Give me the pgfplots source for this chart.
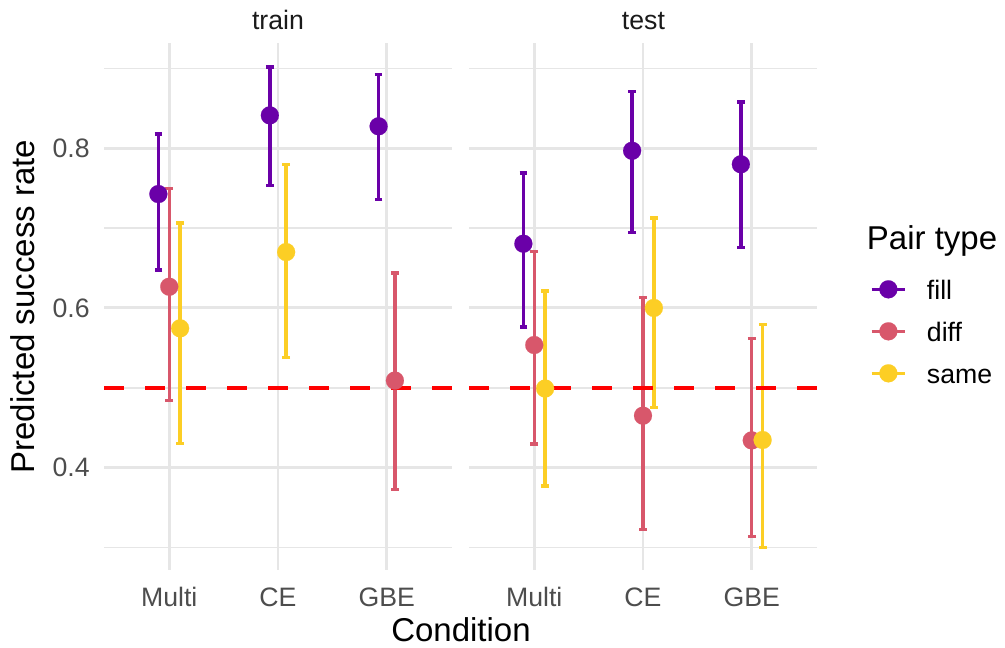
\documentclass[border=0pt]{standalone}
\usepackage{fontspec}
\setmainfont{Liberation Sans}
\usepackage{pgfplots}
\pgfplotsset{compat=1.18}
\usepackage{pgfplotstable}

\definecolor{cfill}{HTML}{6A00A8}
\definecolor{cdiff}{HTML}{D8576B}
\definecolor{csame}{HTML}{FCCE25}
\definecolor{tickgrey}{HTML}{4D4D4D}
\definecolor{stripgrey}{HTML}{1A1A1A}
\definecolor{gridgrey}{HTML}{E6E6E6}

% x = condition (1 Multi, 2 CE, 3 GBE) + dodge offset
\pgfplotstableread{
x y lo hi
0.900 0.7427 0.6475 0.8180
1.925 0.8413 0.7536 0.9022
2.925 0.8276 0.7360 0.8922
}\trainfill
\pgfplotstableread{
x y lo hi
1.000 0.6266 0.4840 0.7500
3.075 0.5090 0.3727 0.6440
}\traindiff
\pgfplotstableread{
x y lo hi
1.100 0.5744 0.4303 0.7064
2.075 0.6700 0.5380 0.7795
}\trainsame
\pgfplotstableread{
x y lo hi
0.900 0.6805 0.5760 0.7690
1.900 0.7970 0.6947 0.8709
2.900 0.7800 0.6755 0.8580
}\testfill
\pgfplotstableread{
x y lo hi
1.000 0.5535 0.4295 0.6710
2.000 0.4650 0.3225 0.6128
3.000 0.4340 0.3138 0.5619
}\testdiff
\pgfplotstableread{
x y lo hi
1.100 0.4990 0.3770 0.6210
2.100 0.6000 0.4754 0.7127
3.100 0.4345 0.3000 0.5794
}\testsame

\newcommand{\ticksize}{\fontsize{20}{24}\selectfont}
\newcommand{\titlesize}{\fontsize{24.75}{30}\selectfont}

\pgfplotsset{
  facet/.style={
    scale only axis, width=261pt, height=395pt,
    anchor=south west,
    xmin=0.4, xmax=3.6, ymin=0.2716, ymax=0.9316,
    axis line style={draw=none},
    major tick length=0pt, minor tick length=0pt,
    xtick={1,2,3}, xticklabels={Multi,CE,GBE},
    ytick={0.4,0.6,0.8}, minor ytick={0.3,0.5,0.7,0.9},
    xmajorgrids, ymajorgrids, yminorgrids,
    major grid style={line width=2.2pt, color=gridgrey},
    minor grid style={line width=1.2pt, color=gridgrey},
    xticklabel style={font=\ticksize, text=tickgrey, anchor=base, inner sep=0pt, yshift=-27.75pt},
    yticklabel style={font=\ticksize, text=tickgrey, anchor=east, inner sep=0pt, xshift=-10.5pt},
  },
  ebar/.style={only marks, mark=none, color=#1, forget plot,
    error bars/.cd, y dir=both, y explicit, error mark=-,
    error bar style={line width=2.6pt, color=#1},
    error mark options={rotate=90, line width=2.6pt, mark size=2.9pt, color=#1}},
  pts/.style={only marks, mark=*, mark size=6.75pt, color=#1, forget plot,
    mark options={fill=#1, draw=#1, line width=0.1pt}},
  keyline/.style={color=#1, line width=2.6pt, forget plot},
}

\newcommand{\eb}[2]{\addplot[ebar=#1] table[x=x, y=y, y error plus expr=\thisrow{hi}-\thisrow{y}, y error minus expr=\thisrow{y}-\thisrow{lo}] {#2};}
\newcommand{\pt}[2]{\addplot[pts=#1] table[x=x, y=y] {#2};}

\begin{document}
\begin{tikzpicture}
\useasboundingbox (0,0) rectangle (753.75pt,486pt);

\begin{axis}[facet, at={(78pt,58.5pt)}, yticklabels={0.4,0.6,0.8}]
\eb{cfill}{\trainfill}
\eb{cdiff}{\traindiff}
\eb{csame}{\trainsame}
\pt{cfill}{\trainfill}
\pt{cdiff}{\traindiff}
\pt{csame}{\trainsame}
\addplot[color=red, line width=3pt, dash pattern=on 15.25pt off 15.5pt, forget plot] coordinates {(0.4,0.5) (3.6,0.5)};
\end{axis}

\begin{axis}[facet, at={(351.75pt,58.5pt)}, yticklabels={,,}]
\eb{cfill}{\testfill}
\eb{cdiff}{\testdiff}
\eb{csame}{\testsame}
\pt{cfill}{\testfill}
\pt{cdiff}{\testdiff}
\pt{csame}{\testsame}
\addplot[color=red, line width=3pt, dash pattern=on 15.25pt off 15.5pt, forget plot] coordinates {(0.4,0.5) (3.6,0.5)};
\end{axis}

% legend keys: a hidden axis, rows at y = 2 (fill), 1 (diff), 0 (same)
\begin{axis}[scale only axis, width=25pt, height=63pt, anchor=south west,
  at={(653.8pt,206pt)}, xmin=0, xmax=1, ymin=0, ymax=2, hide axis, clip=false]
\addplot[keyline=cfill] coordinates {(0,2) (1,2)};
\addplot[keyline=cdiff] coordinates {(0,1) (1,1)};
\addplot[keyline=csame] coordinates {(0,0) (1,0)};
\addplot[pts=cfill] coordinates {(0.5,2)};
\addplot[pts=cdiff] coordinates {(0.5,1)};
\addplot[pts=csame] coordinates {(0.5,0)};
\node[anchor=base west, inner sep=0pt, font=\ticksize, yshift=-7.5pt] at (axis cs:1.648,2) {fill};
\node[anchor=base west, inner sep=0pt, font=\ticksize, yshift=-7.5pt] at (axis cs:1.648,1) {diff};
\node[anchor=base west, inner sep=0pt, font=\ticksize, yshift=-7.5pt] at (axis cs:1.648,0) {same};
\end{axis}

\node[anchor=base, font=\ticksize, text=stripgrey] at (208.5pt,463.5pt) {train};
\node[anchor=base, font=\ticksize, text=stripgrey] at (482.6pt,463.5pt) {test};
\node[anchor=base, font=\titlesize, inner sep=0pt] at (345.75pt,4.5pt) {Condition};
\node[anchor=base, rotate=90, font=\titlesize] at (26pt,256pt) {Predicted success rate};
\node[anchor=base west, font=\titlesize, inner sep=0pt] at (650pt,299pt) {Pair type};
\end{tikzpicture}
\end{document}
